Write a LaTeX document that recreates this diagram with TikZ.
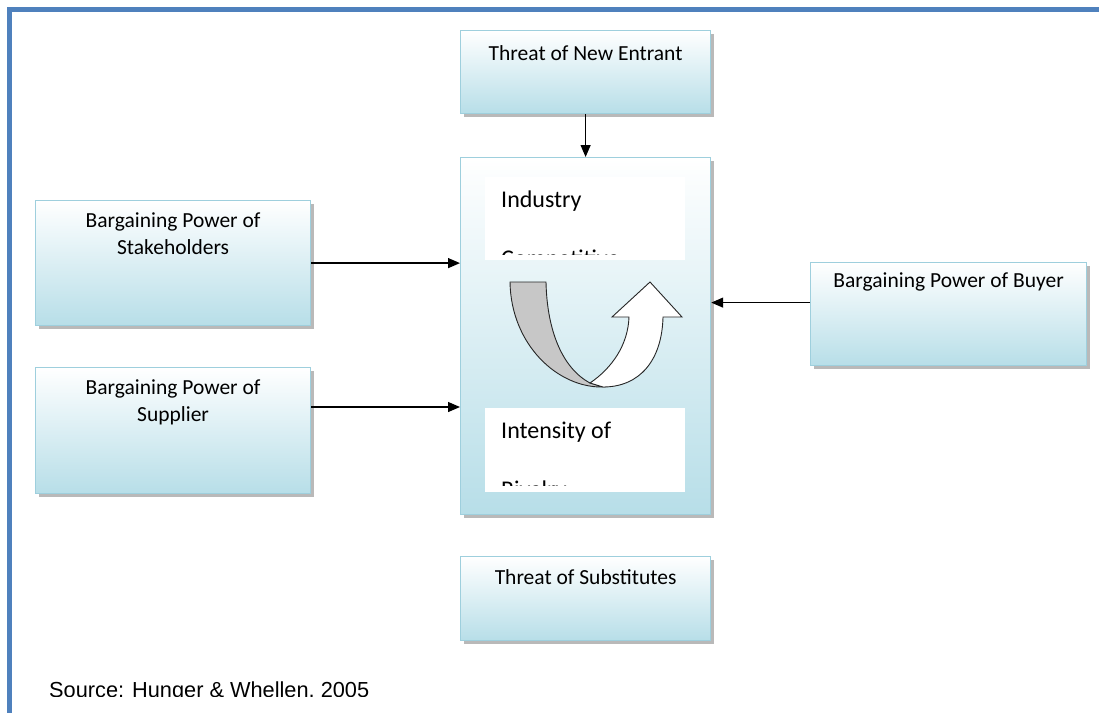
\documentclass[tikz,border=0pt]{standalone}
\usepackage{fontspec}
\setmainfont{Carlito}
\newfontfamily\srcfont{Liberation Sans}
\usetikzlibrary{shadows, arrows.meta}
\definecolor{boxfill}{RGB}{183,222,232}
\definecolor{boxedge}{RGB}{158,207,221}
\definecolor{framecol}{RGB}{79,129,189}
\tikzstyle{block} = [rectangle, anchor=north west, draw=boxedge, line width=1.2pt, top color=white, bottom color=boxfill, inner xsep=4pt, inner ysep=0pt, align=center, font=\fontsize{21.5}{27}\selectfont, drop shadow={shadow xshift=3pt, shadow yshift=-3pt, fill=black!50, opacity=0.55}]
\tikzstyle{paneltext} = [anchor=north west, inner sep=0pt, align=left, font=\fontsize{24}{59}\selectfont]
\tikzstyle{arrow} = [line width=1.3pt, -{Triangle[length=12pt, width=10pt]}]

\begin{document}
\begin{tikzpicture}[x=1pt, y=-1pt]
	\useasboundingbox (0,0) rectangle (1099,712);
	\clip (0,0) rectangle (1099,712);
	\draw[framecol, line width=5pt] (9.5,760) -- (9.5,9.5) -- (1140,9.5);
	
	% Nodes
	\node (entr) [block, minimum width=250pt, text height=30pt, text depth=53pt] at (460,30) {Threat of New Entrant};
	\node (stake) [block, minimum width=275pt, text height=54pt, text depth=71pt] at (35,200) {Bargaining Power of\\Stakeholders};
	\node (sup) [block, minimum width=275pt, text height=54pt, text depth=72pt] at (35,367) {Bargaining Power of\\Supplier};
	\node (core) [block, minimum width=250pt, minimum height=357pt] at (460,157) {};
	\node (buy) [block, minimum width=276pt, text height=25pt, text depth=78pt] at (810,262) {Bargaining Power of Buyer};
	\node (subs) [block, minimum width=250pt, text height=28pt, text depth=56pt] at (460,556) {Threat of Substitutes};
	
	% Panels in the core box
	\fill[white] (485,177) rectangle (685,260);
	\fill[white] (485,408) rectangle (685,492);
	\begin{scope}
		\clip (485,170) rectangle (685,254);
		\node (ind) [paneltext, text height=89pt, text depth=0pt] at (501,177) {Industry\\Competitive};
	\end{scope}
	\begin{scope}
		\clip (485,400) rectangle (685,485);
		\node (riv) [paneltext, text height=89pt, text depth=0pt] at (501,408) {Intensity of\\Rivalry};
	\end{scope}
	
	% U-turn arrow
	\filldraw[fill=black!22, draw=black!85, line width=0.9pt] (510,282) -- (546,282) .. controls (547,330) and (562,368) .. (590,383) -- (603,387) .. controls (558,388) and (511,345) .. (510,282) -- cycle;
	\filldraw[fill=white, draw=black!85, line width=0.9pt] (590,383) .. controls (612,368) and (628,345) .. (629,317) -- (612,317) -- (650,282) -- (682,317) -- (663,317) .. controls (662,360) and (640,387) .. (603,387) -- cycle;
	
	% Source
	\begin{scope}
		\clip (0,600) rectangle (600,696);
		\node (src) [anchor=base west, inner sep=0pt, font=\srcfont\fontsize{21.75}{26}\selectfont] at (49,697) {Source: Hunger \& Whellen, 2005};
	\end{scope}
	
	% Arrows
	\coordinate (s2) at ([yshift=-40pt]sup.north east);
	\coordinate (b2) at ([yshift=11.5pt]buy.west);
	\draw [arrow] (entr) -- (core);
	\draw [arrow] (stake.east) -- (stake.east -| core.west);
	\draw [arrow] (s2) -- (s2 -| core.west);
	\draw [arrow] (b2) -- (b2 -| core.east);
	
\end{tikzpicture}
\end{document}
